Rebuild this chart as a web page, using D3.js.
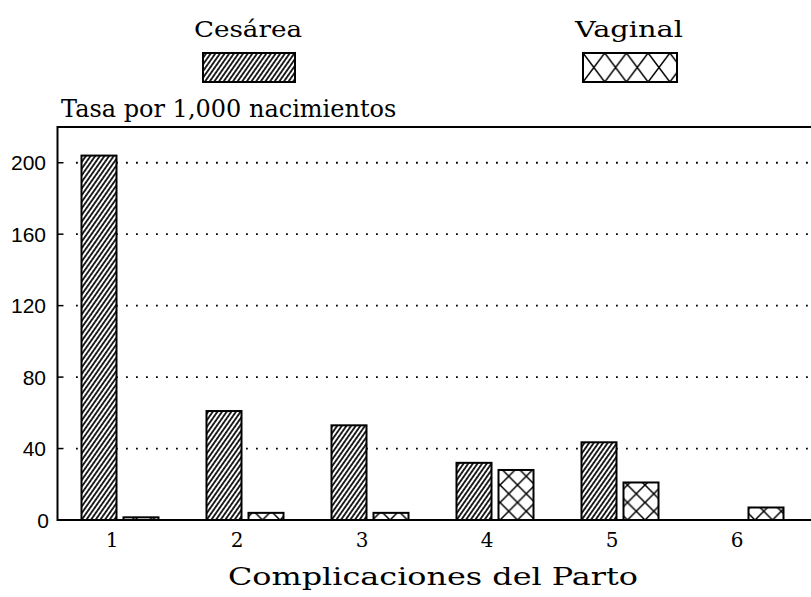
<!DOCTYPE html>
<html>
<head>
<meta charset="utf-8">
<script src="https://cdn.jsdelivr.net/npm/d3@7"></script>
<style>
  html, body { margin: 0; padding: 0; background: #fff; }
  svg { display: block; }
</style>
</head>
<body>
<svg id="chart" width="811" height="597"></svg>
<script>
// ---- data ----
const categories = ["1", "2", "3", "4", "5", "6"];
const seriesNames = ["Cesárea", "Vaginal"];
const cesarea = [204, 61, 53, 32, 43.5, 0];
const vaginal = [1.5, 4, 4, 28, 21, 7];
const yTicks = [0, 40, 80, 120, 160, 200];
const yTitle = "Tasa por 1,000 nacimientos";
const xTitle = "Complicaciones del Parto";

(function () {
// ---- layout ----
const W = 811, H = 597;
const pLeft = 57.5, pTop = 127, pBottom = 520, pRight = 807.5;

const svg = d3.select("#chart");
const x0 = d3.scaleBand().domain(categories).range([pLeft, pRight])
  .paddingInner(0.384).paddingOuter(0.192);
const x1 = d3.scaleBand().domain(seriesNames).range([0, x0.bandwidth()])
  .paddingInner(1 / 6);
const y = d3.scaleLinear().domain([0, 220]).range([pBottom, pTop]);

const serif = "'DejaVu Serif', 'Liberation Serif', serif";
const sans = "'Liberation Sans', Arial, sans-serif";

// ---- patterns ----
const defs = svg.append("defs");
const hatch = defs.append("pattern").attr("id", "hatch")
  .attr("patternUnits", "userSpaceOnUse")
  .attr("width", 3.8).attr("height", 4)
  .attr("patternTransform", "rotate(35)");
hatch.append("rect").attr("width", 3.8).attr("height", 4).attr("fill", "#fff");
hatch.append("line").attr("x1", 1.9).attr("x2", 1.9).attr("y1", -1).attr("y2", 5)
  .attr("stroke", "#000").attr("stroke-width", 1.7);

function crossPattern(id, px, py, w, h) {
  const p = defs.append("pattern").attr("id", id)
    .attr("patternUnits", "userSpaceOnUse")
    .attr("x", px).attr("y", py).attr("width", w).attr("height", h);
  p.append("rect").attr("width", w).attr("height", h).attr("fill", "#fff");
  p.append("path").attr("d", `M0,0L${w},${h}M${w},0L0,${h}`)
    .attr("stroke", "#000").attr("stroke-width", 1.5).attr("fill", "none");
}

// ---- grid & ticks ----
const g = svg.append("g");
g.selectAll("line.grid").data(yTicks.filter(d => d > 0)).join("line")
  .attr("class", "grid")
  .attr("x1", 76).attr("x2", W)
  .attr("y1", d => y(d)).attr("y2", d => y(d))
  .attr("stroke", "#000").attr("stroke-width", 1.8)
  .attr("stroke-dasharray", "1.8,8.2");
g.selectAll("line.tick").data(yTicks.filter(d => d > 0)).join("line")
  .attr("class", "tick")
  .attr("x1", pLeft).attr("x2", pLeft + 6)
  .attr("y1", d => y(d)).attr("y2", d => y(d))
  .attr("stroke", "#000").attr("stroke-width", 1.5);

g.selectAll("text.ylab").data(yTicks).join("text")
  .attr("class", "ylab")
  .attr("x", d => d === 0 ? 49 : 46)
  .attr("y", d => y(d)).attr("dy", "0.36em")
  .attr("text-anchor", "end")
  .attr("font-family", sans).attr("font-size", 21)
  .text(d => d);

// ---- bars ----
const rows = categories.map((c, i) => ({ c, i, vals: [cesarea[i], vaginal[i]] }));
rows.forEach(r => {
  const bx = x0(r.c) + x1("Vaginal");
  crossPattern("cross" + r.i, bx, y(0), x1.bandwidth() / 2, x1.bandwidth() / 2);
});

const groups = svg.append("g").selectAll("g").data(rows).join("g")
  .attr("transform", d => `translate(${x0(d.c)},0)`);

groups.selectAll("rect")
  .data(d => seriesNames.map((s, k) => ({ s, v: d.vals[k], i: d.i })).filter(e => e.v > 0))
  .join("rect")
  .attr("x", e => x1(e.s))
  .attr("y", e => y(e.v))
  .attr("width", x1.bandwidth())
  .attr("height", e => y(0) - y(e.v))
  .attr("fill", e => e.s === "Cesárea" ? "url(#hatch)" : `url(#cross${e.i})`)
  .attr("stroke", "#000").attr("stroke-width", 2);

// ---- frame ----
svg.append("path")
  .attr("d", `M${W + 2},${pTop}H${pLeft}V${pBottom}H${W + 2}`)
  .attr("fill", "none").attr("stroke", "#000").attr("stroke-width", 2);

// ---- x tick labels ----
svg.selectAll("text.xlab").data(categories).join("text")
  .attr("class", "xlab")
  .attr("x", d => x0(d) + x0.bandwidth() / 2 - 8)
  .attr("y", 547)
  .attr("text-anchor", "middle")
  .attr("font-family", serif).attr("font-size", 20)
  .text(d => d);

// ---- titles ----
svg.append("text")
  .attr("x", 61).attr("y", 117)
  .attr("font-family", serif).attr("font-size", 24)
  .text(yTitle);

svg.append("text")
  .attr("x", 228).attr("y", 585)
  .attr("font-family", serif).attr("font-size", 24)
  .attr("textLength", 410).attr("lengthAdjust", "spacingAndGlyphs")
  .text(xTitle);

// ---- legend ----
const legendItems = [
  { name: "Cesárea", cx: 248, sx: 203, sw: 92, fill: "url(#hatch)" },
  { name: "Vaginal", cx: 629, sx: 583, sw: 94, fill: "url(#crossLegend)" }
];
crossPattern("crossLegend", 583, 53, 94 / 4.33, 29);
const leg = svg.append("g");
leg.selectAll("text").data(legendItems).join("text")
  .attr("x", d => d.cx).attr("y", 37)
  .attr("text-anchor", "middle")
  .attr("font-family", serif).attr("font-size", 23)
  .attr("textLength", 108).attr("lengthAdjust", "spacingAndGlyphs")
  .text(d => d.name);
leg.selectAll("rect").data(legendItems).join("rect")
  .attr("x", d => d.sx).attr("y", 53)
  .attr("width", d => d.sw).attr("height", 29)
  .attr("fill", d => d.fill)
  .attr("stroke", "#000").attr("stroke-width", 2);
})();
</script>
</body>
</html>
